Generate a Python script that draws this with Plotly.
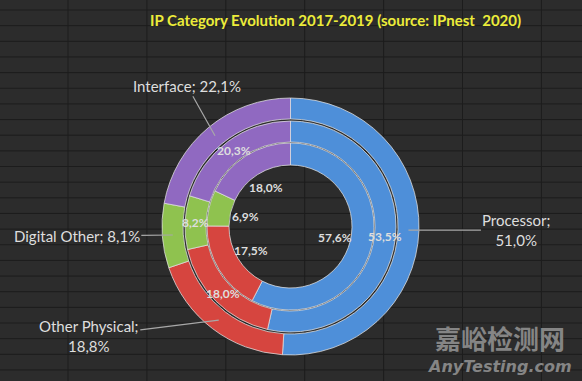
import math
import plotly.graph_objects as go

# ---------------- data ----------------
categories = ["Processor", "Other Physical", "Digital Other", "Interface"]
values_2017 = [57.6, 17.5, 6.9, 18.0]   # inner ring
values_2018 = [53.5, 18.0, 8.2, 20.3]   # middle ring
values_2019 = [51.0, 18.8, 8.1, 22.1]   # outer ring
title_text = "IP Category Evolution 2017-2019 (source: IPnest  2020)"

# ---------------- styling ----------------
colors = ["#4e8fd9", "#d6453f", "#8fc24f", "#9069c1"]
W, H = 582, 381
CX, CY = 290.5, 226.5           # ring centre in pixels
BG = "#2c2c2c"
GRID = "#1c1c1c"
TXT = "#dedede"
FONT = "Lato"

rings = [  # values, outer radius px, inner radius px
    (values_2019, 128.5, 107.5),
    (values_2018, 105.5, 84.5),
    (values_2017, 83.5, 61.5),
]


def fmt(v):
    return f"{v:.1f}".replace(".", ",") + "%"


def mid_angles(vals):
    tot = sum(vals)
    c = 0.0
    out = []
    for v in vals:
        out.append((c + v / 2) / tot * 2 * math.pi)
        c += v
    return out


def to_paper(r, th):
    return (CX + r * math.sin(th)) / W, 1 - (CY - r * math.cos(th)) / H


fig = go.Figure()
for vals, ro, ri in rings:
    fig.add_trace(go.Pie(
        labels=categories, values=vals, sort=False, direction="clockwise",
        rotation=0, hole=ri / ro, textinfo="none", hoverinfo="label+percent",
        marker=dict(colors=colors, line=dict(color="rgba(225,225,225,0.75)", width=1)),
        domain=dict(x=[(CX - ro) / W, (CX + ro) / W],
                    y=[1 - (CY + ro) / H, 1 - (CY - ro) / H]),
        showlegend=False,
    ))

annotations = []
# inner ring labels (placed inside the hole) and middle ring labels (on ring)
for vals, rl in [(values_2017, 46), (values_2018, 95)]:
    for v, th in zip(vals, mid_angles(vals)):
        x, y = to_paper(rl, th)
        annotations.append(dict(x=x, y=y, xref="paper", yref="paper", text=f"<b>{fmt(v)}</b>",
                                xanchor="center", yanchor="middle", showarrow=False,
                                font=dict(family=FONT, size=12, color=TXT)))

# outer ring labels with leader lines
offsets = {  # category -> (ax, ay) pixel offset of text from ring point
    "Processor": (108, 0),
    "Other Physical": (-130, 16),
    "Digital Other": (-96, 1),
    "Interface": (-28, -50),
}
for cat, v, th in zip(categories, values_2019, mid_angles(values_2019)):
    x, y = to_paper(118, th)
    if cat in ("Processor", "Other Physical"):
        txt = f"{cat};<br>{fmt(v)}"
    else:
        txt = f"{cat}; {fmt(v)}"
    ax, ay = offsets[cat]
    annotations.append(dict(x=x, y=y, xref="paper", yref="paper", text=txt,
                            showarrow=True, arrowhead=0, arrowwidth=1.2, arrowcolor="#a8a8a8",
                            ax=ax, ay=ay, align="center", xanchor="center", yanchor="middle",
                            font=dict(family=FONT, size=15, color=TXT)))

# title
annotations.append(dict(x=335 / W, y=1 - 20 / H, xref="paper", yref="paper", text=f"<b>{title_text}</b>",
                        xanchor="center", yanchor="middle", showarrow=False,
                        font=dict(family=FONT, size=15, color="#ecec3a")))
# watermark
annotations.append(dict(x=500 / W, y=1 - 337 / H, xref="paper", yref="paper", text="<b>嘉峪检测网</b>",
                        xanchor="center", yanchor="middle", showarrow=False,
                        font=dict(family="Noto Sans CJK SC", size=26, color="#858585")))
annotations.append(dict(x=500 / W, y=1 - 366 / H, xref="paper", yref="paper", text="<b><i>AnyTesting.com</i></b>",
                        xanchor="center", yanchor="middle", showarrow=False,
                        font=dict(family="DejaVu Sans", size=16, color="#858585")))

# spreadsheet-like background grid
shapes = []
k = 0
while 10 + 15.65 * k < H:
    yy = 1 - (10 + 15.65 * k) / H
    shapes.append(dict(type="line", xref="paper", yref="paper", x0=0, x1=1, y0=yy, y1=yy,
                       line=dict(color=GRID, width=1), layer="below"))
    k += 1
k = 0
while 68 + 78.9 * k < W:
    xx = (68 + 78.9 * k) / W
    shapes.append(dict(type="line", xref="paper", yref="paper", x0=xx, x1=xx, y0=0, y1=1,
                       line=dict(color=GRID, width=1), layer="below"))
    k += 1

fig.update_layout(
    width=W, height=H, margin=dict(l=0, r=0, t=0, b=0),
    paper_bgcolor=BG, plot_bgcolor=BG,
    annotations=annotations, shapes=shapes,
)
fig.write_html("out.html",
               config={"displayModeBar": False},
               post_script="document.body.style.margin='0';document.body.style.overflow='hidden';"
                           "document.body.style.background='" + BG + "';")
